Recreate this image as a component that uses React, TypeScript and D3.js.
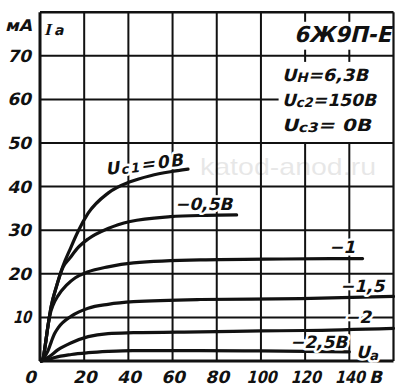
import React from 'react';
import * as d3 from 'd3';

const WIDTH = 400;
const HEIGHT = 392;

const xTickValues = [0, 20, 40, 60, 80, 100, 120, 140];
const yTickValues = [10, 20, 30, 40, 50, 60, 70];
const gridX = [20, 40, 60, 80, 100, 120, 140];
const gridY = [10, 20, 30, 40, 50, 60, 70];

// Anode current Ia (mA) vs anode voltage Ua (V) for grid-1 voltages
const curveUc1_0: [number, number][] = [
  [0.6, 0], [1.4, 0.6], [2.4, 3.7], [3.6, 8.0], [5.1, 12.6], [7.4, 17.0], [10.4, 21.8],
  [13.5, 25.5], [17.2, 29.7], [21.8, 33.9], [30.8, 38.5], [40.8, 41.1], [50, 42.5],
  [59, 43.4], [67, 44.0],
];
const curveUc1_05: [number, number][] = [
  [0.6, 0], [1.4, 0.6], [2.4, 3.7], [3.6, 8.0], [5.1, 12.6], [7.4, 17.0], [10.4, 21.5],
  [13.5, 23.6], [17.2, 26.0], [21.8, 28.0], [30.8, 30.4], [40.8, 32.0], [59, 33.1],
  [75, 33.4], [89, 33.5],
];
const curveUc1_1: [number, number][] = [
  [0.6, 0], [1.4, 0.6], [2.4, 3.7], [3.6, 8.0], [4.6, 10.8], [5.9, 12.8], [8.2, 15.0],
  [12, 17.4], [16, 19.1], [21.5, 20.4], [30.8, 21.6], [42.3, 22.5], [72.5, 23.2],
  [110, 23.4], [146, 23.5],
];
const curveUc1_15: [number, number][] = [
  [0.6, 0], [2, 0.9], [3.6, 2.3], [5.1, 4.4], [6.5, 6.2], [8.2, 7.6], [14.2, 10.3],
  [21.8, 12.1], [30.8, 13.0], [42.3, 13.6], [72.5, 14.1], [118, 14.3], [160, 14.8],
];
const curveUc1_2: [number, number][] = [
  [0.6, 0], [2.5, 0.5], [4.4, 1.1], [8.2, 2.6], [14.2, 4.2], [21.8, 5.6], [30.8, 6.3],
  [42.3, 6.5], [72.5, 6.7], [100, 6.9], [120, 7.0], [160, 7.5],
];
const curveUc1_25: [number, number][] = [
  [0.6, 0], [4.4, 0.4], [6.7, 0.8], [14.2, 1.5], [21.8, 1.9], [30.8, 2.2], [42, 2.4],
  [72, 2.4], [100, 2.3], [140, 2.1],
];

const curves = [curveUc1_0, curveUc1_05, curveUc1_1, curveUc1_15, curveUc1_2, curveUc1_25];

const INK = '#111';
const FONT = '"DejaVu Sans", sans-serif';
const SKEW = -14;

type STProps = {
  x: number;
  y: number;
  size?: number;
  anchor?: 'start' | 'middle' | 'end';
  halo?: boolean;
  rotate?: number;
  width?: number;
  adjust?: 'spacing' | 'spacingAndGlyphs';
  family?: string;
  weight?: number;
  children: React.ReactNode;
};

function ST({ x, y, size = 17, anchor = 'start', halo = false, rotate = 0, width, adjust = 'spacingAndGlyphs', family = FONT, weight = 700, children }: STProps) {
  const extra: any = {};
  if (width) {
    extra.textLength = width;
    extra.lengthAdjust = adjust;
  }
  if (halo) {
    extra.stroke = '#fff';
    extra.strokeWidth = 5;
    extra.paintOrder = 'stroke';
    extra.strokeLinejoin = 'round';
  }
  return (
    <g transform={`translate(${x},${y}) rotate(${rotate}) skewX(${SKEW})`}>
      <text x={0} y={0} fontSize={size} fontFamily={family} fontWeight={weight} fill={INK} textAnchor={anchor} {...extra}>
        {children}
      </text>
    </g>
  );
}

export default function App() {
  const x = d3.scaleLinear().domain([0, 160]).range([40, 393.5]);
  const y = d3.scaleLinear().domain([0, 80]).range([361, 12.2]);
  const line = d3
    .line<[number, number]>()
    .x((d) => x(d[0]))
    .y((d) => y(d[1]))
    .curve(d3.curveMonotoneX);

  const vSegments = (v: number): [number, number][] =>
    v === 120 || v === 140 ? [[0, 50], [68.6, 71.4], [77.8, 80]] : [[0, 80]];
  const hSegment = (h: number): [number, number] => (h === 60 ? [0, 108] : [0, 160]);

  const digitWidth = (s: string, fs: number) =>
    s.split('').reduce((a, c) => a + (c === '1' ? 0.38 : 0.7), 0) * fs;

  return (
    <svg
      width={WIDTH}
      height={HEIGHT}
      style={{ position: 'absolute', left: 0, top: 0, background: '#fff', display: 'block' }}
    >
      <rect x={0} y={0} width={WIDTH} height={HEIGHT} fill="#fff" />

      {/* grid */}
      {gridX.map((v) =>
        vSegments(v).map((s, i) => (
          <line key={`v${v}-${i}`} x1={x(v)} x2={x(v)} y1={y(s[0])} y2={y(s[1])} stroke={INK} strokeWidth={2} />
        ))
      )}
      {gridY.map((h) => {
        const s = hSegment(h);
        return <line key={`h${h}`} x1={x(s[0])} x2={x(s[1])} y1={y(h)} y2={y(h)} stroke={INK} strokeWidth={2} />;
      })}

      {/* frame */}
      <line x1={x(0)} x2={x(160)} y1={y(80)} y2={y(80)} stroke={INK} strokeWidth={2.4} />
      <line x1={x(160)} x2={x(160)} y1={y(80)} y2={y(0)} stroke={INK} strokeWidth={2.2} />
      <line x1={x(0)} x2={x(160)} y1={y(0)} y2={y(0)} stroke={INK} strokeWidth={3} />
      <line x1={x(0)} x2={x(0)} y1={y(80)} y2={y(0)} stroke={INK} strokeWidth={3} />

      {/* watermark */}
      <text
        x={200}
        y={175}
        fontFamily='"Liberation Sans", sans-serif'
        fontSize={24}
        fill="#000"
        opacity={0.09}
        textLength={176}
        lengthAdjust="spacingAndGlyphs"
      >
        katod-anod.ru
      </text>

      {/* curves */}
      {curves.map((c, i) => (
        <path key={`c${i}`} d={line(c) || ''} fill="none" stroke={INK} strokeWidth={3.2} strokeLinecap="round" />
      ))}

      {/* y tick labels */}
      {yTickValues.map((v) => (
        <ST key={`yt${v}`} x={31} y={y(v) + 6} anchor="end" width={digitWidth(String(v), 17)}>
          {v}
        </ST>
      ))}
      {/* x tick labels */}
      {xTickValues.map((v) => (
        <ST key={`xt${v}`} x={v === 0 ? x(v) - 10 : x(v) + 0.5} y={382.5} anchor="middle" width={digitWidth(String(v), 17)}>
          {v}
        </ST>
      ))}
      <ST x={369} y={382.5}>В</ST>

      {/* axis titles */}
      <ST x={5} y={31} size={16} width={27}>мА</ST>
      <ST x={44} y={35} size={17} family='"Liberation Serif", serif' weight={700}>I</ST>
      <ST x={54} y={35} size={14}>a</ST>
      <ST x={356} y={358} halo>
        U<tspan fontSize={13} dy={2}>a</tspan>
      </ST>

      {/* title and conditions */}
      <ST x={391} y={42} anchor="end" size={22} width={97}>6Ж9П-Е</ST>
      <ST x={282} y={81} width={86}>
        U<tspan fontSize={13} dy={1}>Н</tspan><tspan dy={-1}>=6,3В</tspan>
      </ST>
      <ST x={282} y={106} halo width={94}>
        U<tspan fontSize={13} dy={1}>c2</tspan><tspan dy={-1}>=150В</tspan>
      </ST>
      <ST x={282} y={131} width={89}>
        U<tspan fontSize={13} dy={1}>c3</tspan><tspan dy={-1}>= 0В</tspan>
      </ST>

      {/* curve labels */}
      <ST x={106} y={175} halo rotate={-7} width={78} adjust="spacing">
        U<tspan fontSize={13} dy={1}>c1</tspan><tspan dy={-1}>=0В</tspan>
      </ST>
      <ST x={175} y={210} halo>−0,5В</ST>
      <ST x={329} y={253} halo>−1</ST>
      <ST x={340} y={292} halo>−1,5</ST>
      <ST x={345} y={323} halo>−2</ST>
      <ST x={290} y={348} halo>−2,5В</ST>
    </svg>
  );
}
